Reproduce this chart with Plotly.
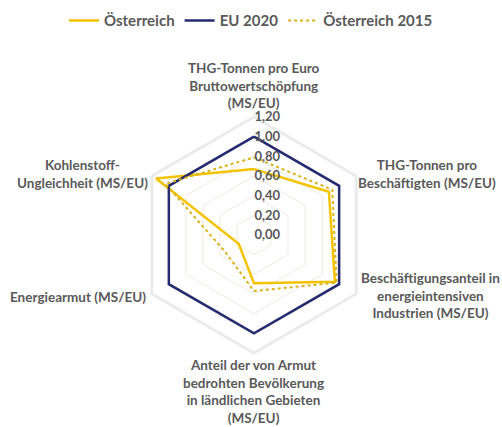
import plotly.graph_objects as go

categories = [
    "THG-Tonnen pro Euro<br>Bruttowertschöpfung<br>(MS/EU)",
    "THG-Tonnen pro<br>Beschäftigten (MS/EU)",
    "Beschäftigungsanteil in<br>energieintensiven<br>Industrien (MS/EU)",
    "Anteil der von Armut<br>bedrohten Bevölkerung<br>in ländlichen Gebieten<br>(MS/EU)",
    "Energiearmut (MS/EU)",
    "Kohlenstoff-<br>Ungleichheit (MS/EU)",
]
oesterreich = [0.67, 0.88, 0.95, 0.49, 0.18, 1.15]
eu_2020 = [1.0, 1.0, 1.0, 1.0, 1.0, 1.0]
oesterreich_2015 = [0.79, 0.92, 0.97, 0.57, 0.34, 1.04]
radial_ticks = [0, 0.2, 0.4, 0.6, 0.8, 1.0, 1.2]

# where the category labels sit (paper fractions), in the same order as categories
label_pos = [
    (0.506, 0.800),
    (0.850, 0.592),
    (0.858, 0.307),
    (0.504, 0.082),
    (0.156, 0.305),
    (0.165, 0.592),
]

text_color = "#595959"
font_family = "Lato, 'Open Sans', sans-serif"

# invisible padding after each tick label, pushes the numbers left of the axis
pad = "<span style='color:rgba(0,0,0,0)'>00</span>"
radial_ticktext = [f"{v:.2f}".replace(".", ",") + pad for v in radial_ticks]


def closed(values):
    return list(values) + [values[0]]


fig = go.Figure()
fig.add_trace(go.Scatterpolar(
    r=closed(oesterreich), theta=closed(categories), mode="lines",
    name="Österreich", line=dict(color="#F4C300", width=2.5)))
fig.add_trace(go.Scatterpolar(
    r=closed(eu_2020), theta=closed(categories), mode="lines",
    name="EU 2020", line=dict(color="#262A6E", width=2.5)))
fig.add_trace(go.Scatterpolar(
    r=closed(oesterreich_2015), theta=closed(categories), mode="lines",
    name="Österreich 2015", line=dict(color="#D8B21C", width=2, dash="dot")))

for label, (lx, ly) in zip(categories, label_pos):
    fig.add_annotation(
        text=label, x=lx, y=ly, xref="paper", yref="paper",
        xanchor="center", yanchor="middle", align="center", showarrow=False,
        font=dict(size=13.5, color=text_color, family=font_family, weight="bold"))

fig.update_layout(
    width=502, height=427,
    margin=dict(l=0, r=0, t=0, b=0, autoexpand=False),
    paper_bgcolor="white",
    plot_bgcolor="white",
    separators=",.",
    font=dict(family=font_family, size=13, color=text_color, weight="bold"),
    showlegend=True,
    legend=dict(orientation="h", x=0.5, xanchor="center", y=0.99, yanchor="top",
                font=dict(size=15, color=text_color, family=font_family, weight="bold"),
                itemwidth=30),
    polar=dict(
        domain=dict(x=[0.2709, 0.7410], y=[0.1733, 0.7260]),
        gridshape="linear",
        bgcolor="white",
        radialaxis=dict(
            range=[0, 1.2], tickvals=radial_ticks, ticktext=radial_ticktext,
            angle=90, tickangle=90, showline=False, ticks="",
            gridcolor="#F0E9E3", gridwidth=1.2,
            tickfont=dict(size=13, color=text_color, family=font_family, weight="bold"),
        ),
        angularaxis=dict(
            direction="clockwise", rotation=90,
            showline=True, linecolor="#EBEBEB", linewidth=3,
            showgrid=False, ticks="", showticklabels=False,
        ),
    ),
)

fig.write_html("out.html", config={"displayModeBar": False},
               post_script="document.body.style.margin = '0px';")
